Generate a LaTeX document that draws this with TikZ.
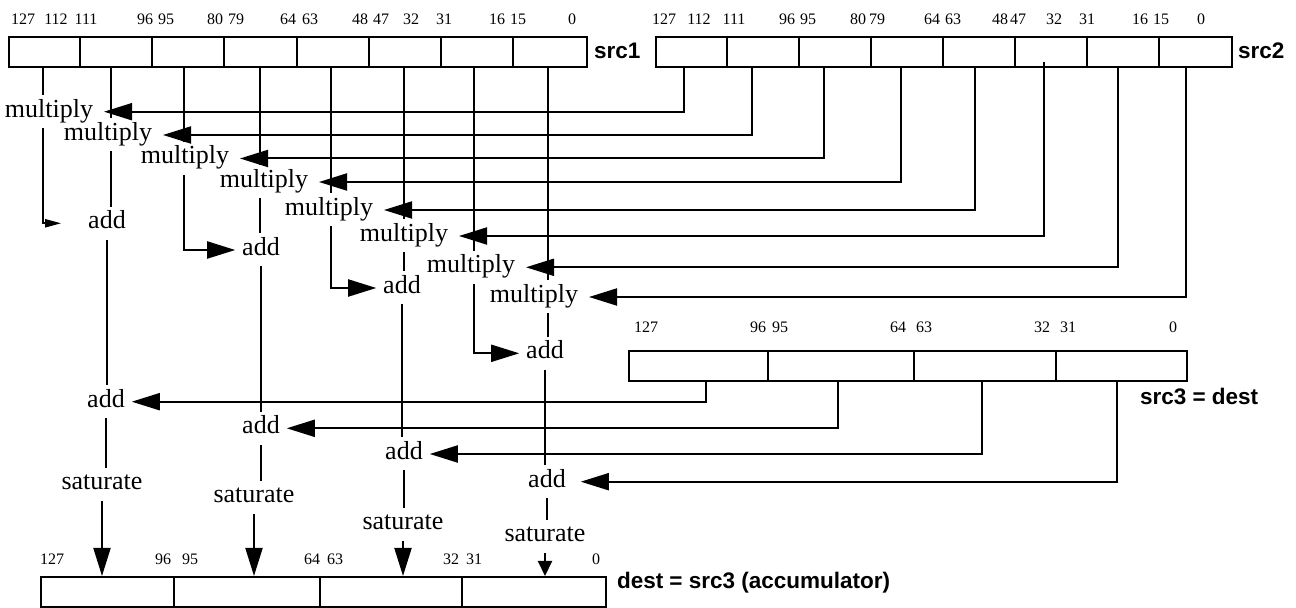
\documentclass[tikz,border=0pt]{standalone}
\usepackage{fontspec}
\setmainfont{Liberation Serif}
\setsansfont{Liberation Sans}
\usetikzlibrary{arrows.meta}
\begin{document}
\begin{tikzpicture}[x=0.5pt,y=-0.5pt, line width=1pt,
  arr/.style={-{Triangle[length=14pt,width=8.5pt]}},
  sarr/.style={-{Triangle[length=8pt,width=4pt]}},
  marr/.style={-{Triangle[length=7.5pt,width=7pt]}},
  op/.style={font=\fontsize{13pt}{15pt}\selectfont, inner xsep=3pt, inner ysep=1.5pt, text height=9pt, text depth=3.5pt},
  mul/.style={op, inner xsep=5pt, anchor=east},
  bit/.style={font=\fontsize{8pt}{9pt}\selectfont, inner sep=0pt, anchor=base},
  lab/.style={font=\fontsize{11.25pt}{13pt}\selectfont\sffamily\bfseries, inner sep=0pt, anchor=west},
  reg/.style={draw, inner sep=0pt, anchor=north west}]
\useasboundingbox (0,0) rectangle (1296,608);

% registers
\node[reg, minimum width=289pt, minimum height=15pt] (S1) at (7.5,36) {};
\foreach \i in {1,...,7} \draw ([xshift=\i*36.125pt]S1.north west) -- ([xshift=\i*36.125pt]S1.south west);
\node[reg, minimum width=288pt, minimum height=15pt] (S2) at (655,36) {};
\foreach \i in {1,...,7} \draw ([xshift=\i*36pt]S2.north west) -- ([xshift=\i*36pt]S2.south west);
\node[reg, minimum width=279pt, minimum height=15pt] (S3) at (628,350) {};
\foreach \x in {767.5,913.5,1055.5} \draw (\x,0 |- S3.north) -- (\x,0 |- S3.south);
\node[reg, minimum width=282.75pt, minimum height=15pt] (D) at (39.5,576) {};
\foreach \x in {173.5,320,462} \draw (\x,0 |- D.north) -- (\x,0 |- D.south);

% bit labels
\foreach \t/\x [count=\i] in {127/23,112/56,111/86,96/145,95/166,80/215,79/236,64/288,63/310,48/360,47/381,32/411,31/444,16/497,15/518,0/572}
  \node[bit] (ta\i) at (\x,25) {\t};
\foreach \t/\x [count=\i] in {127/664,112/699,111/734,96/787,95/808,80/858,79/877,64/932,63/953,48/1000,47/1018,32/1054,31/1087,16/1140,15/1161,0/1201}
  \node[bit] (tb\i) at (\x,25) {\t};
\foreach \t/\x [count=\i] in {127/646,96/758,95/780,64/898,63/924,32/1042,31/1068,0/1173}
  \node[bit] (tc\i) at (\x,333) {\t};
\foreach \t/\x [count=\i] in {127/52,96/163,95/190,64/312,63/335,32/451,31/474,0/596}
  \node[bit] (td\i) at (\x,565) {\t};

% register names
\node[lab] (n1) at (593,51) {src1};
\node[lab] (n2) at (1237,51) {src2};
\node[lab] (n3) at (1139,396) {src3 = dest};
\node[lab] (n4) at (616,583) {dest = src3 (accumulator)};

% column coordinates
\foreach \x [count=\i] in {43,110.5,184,260,331,404,473.5,548} \coordinate (a\i) at (\x,0);
\foreach \x [count=\i] in {684,752,824,900.5,974.5,1043.5,1117.5,1186} \coordinate (b\i) at (\x,0);
\foreach \x [count=\i] in {706,837.5,982,1117} \coordinate (c\i) at (\x,0);

% multiply nodes
\node[mul] (m1) at (104,111.7) {multiply};
\node[mul] (m2) at (163,135) {multiply};
\node[mul] (m3) at (240,158.5) {multiply};
\node[mul] (m4) at (319,182) {multiply};
\node[mul] (m5) at (384,210) {multiply};
\node[mul] (m6) at (459,236) {multiply};
\node[mul] (m7) at (526,267.3) {multiply};
\node[mul] (m8) at (589,297) {multiply};

% add nodes
\node[op] (add1) at (107,223.3) {add};
\node[op] (add2) at (261,250) {add};
\node[op] (add3) at (402,288) {add};
\node[op] (add4) at (545,353.3) {add};
\node[op] (A1) at (106,401.7) {add};
\node[op] (A2) at (261,428.3) {add};
\node[op] (A3) at (404,454) {add};
\node[op] (A4) at (547,481.7) {add};
\node[op] (sat1) at (102,484.5) {saturate};
\node[op] (sat2) at (254,497.5) {saturate};
\node[op] (sat3) at (403,524.5) {saturate};
\node[op] (sat4) at (545,536.5) {saturate};

% src1 -> multiply
\foreach \i in {1,...,8} \draw (a\i |- S1.south) -- (a\i |- m\i.north);
% src2 -> multiply
\foreach \i in {1,2,3,4,5,7,8} \draw[arr] (b\i |- S2.south) |- (m\i);
\draw[arr] ([yshift=3pt]b6 |- S2.south) |- (m6);

% multiply -> pairwise add
\draw[sarr, shorten >=10pt] (a1 |- m1.south) |- (add1);
\draw[arr] (a3 |- m3.south) |- (add2);
\draw[arr] (a5 |- m5.south) |- (add3);
\draw[arr] (a7 |- m7.south) |- (add4);
\draw (a2 |- m2.south) -- (a2 |- add1.north);
\draw (a4 |- m4.south) -- (a4 |- add2.north);
\draw (a6 |- m6.south) -- (a6 |- add3.north);
\draw (a8 |- m8.south) -- (a8 |- add4.north);

% add -> accumulate add
\foreach \k in {1,...,4} {
  \draw (add\k.south) -- (add\k.south |- A\k.north);
  \draw (A\k.south) -- (A\k.south |- sat\k.north);
}
% src3 -> accumulate add
\draw[arr] (c1 |- S3.south) |- (A1);
\draw[arr] (c2 |- S3.south) |- (A2);
\draw[arr] (c3 |- S3.south) |- (A3);
\draw[arr, shorten >=4pt] (c4 |- S3.south) |- (A4);

% saturate -> dest
\draw[arr] (sat1.south) -- (sat1.south |- D.north);
\draw[arr] (sat2.south) -- (sat2.south |- D.north);
\draw[arr] (sat3.south) -- (sat3.south |- D.north);
\draw[marr] (sat4.south) -- (sat4.south |- D.north);
\end{tikzpicture}
\end{document}
